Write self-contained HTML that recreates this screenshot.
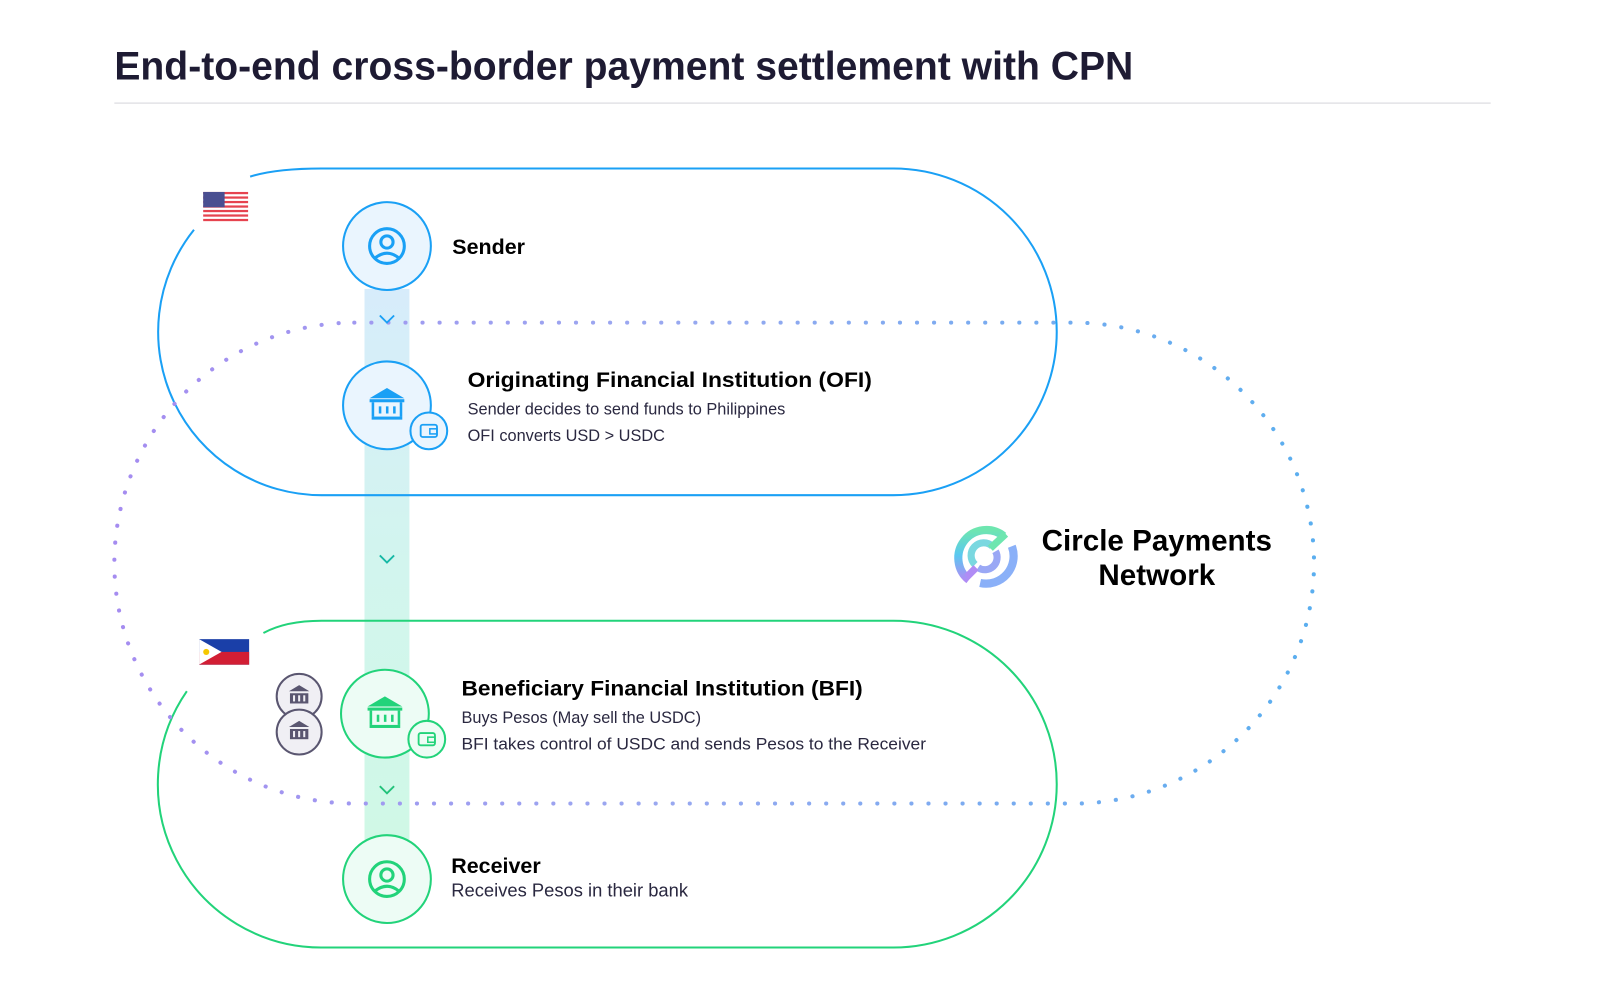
<!DOCTYPE html>
<html><head><meta charset="utf-8"><style>
body{margin:0;background:#fff;width:1600px;height:999px;overflow:hidden;font-family:"Liberation Sans",sans-serif;color:#1e1b33}
</style></head><body>
<svg width="1600" height="999" viewBox="0 0 1600 999" xmlns="http://www.w3.org/2000/svg">
<defs>
<linearGradient id="dg" x1="0" x2="1" y1="0" y2="0"><stop offset="0" stop-color="#a58cf0"/><stop offset="0.45" stop-color="#9aa8f0"/><stop offset="1" stop-color="#5aaeef"/></linearGradient>
<linearGradient id="bar" x1="0" x2="0" y1="0" y2="1"><stop offset="0" stop-color="#d7ecfb"/><stop offset="0.5" stop-color="#d2f5ee"/><stop offset="1" stop-color="#d0f8e6"/></linearGradient>
<linearGradient id="lg" x1="0" x2="0" y1="0" y2="1"><stop offset="0" stop-color="#6ee6b0"/><stop offset="0.5" stop-color="#5ac8f0"/><stop offset="1" stop-color="#b08cf5"/></linearGradient>
</defs>
<g transform="scale(1.021)">
<text x="112" y="78" font-size="39" font-weight="bold" fill="#1e1b33" textLength="998" lengthAdjust="spacingAndGlyphs">End-to-end cross-border payment settlement with CPN</text>
<line x1="112" y1="101" x2="1460" y2="101" stroke="#e2e2e6" stroke-width="1.5"/>
<rect x="357" y="283" width="44" height="540" fill="url(#bar)"/>
<path d="M245 173 Q270 165 315 165 L875 165 A160 160 0 0 1 875 485 L315 485 A160 160 0 0 1 190 225" fill="none" stroke="#1aa0f5" stroke-width="2"/>
<path d="M258 620 Q280 608 315 608 L875 608 A160 160 0 0 1 875 928 L315 928 A160 160 0 0 1 183 677" fill="none" stroke="#22d37a" stroke-width="2"/>
<path d="M347 316 L1052 316 A235 235.5 0 0 1 1052 787 L347 787 A235 235.5 0 0 1 347 316 Z" fill="none" stroke="url(#dg)" stroke-width="4" stroke-linecap="round" stroke-dasharray="0.1 16.6"/>
<path d="M372 309 l7 7 l7 -7" fill="none" stroke="#1aa0f5" stroke-width="1.8"/>
<path d="M372 544 l7 7 l7 -7" fill="none" stroke="#16b8a5" stroke-width="1.8"/>
<path d="M372 770 l7 7 l7 -7" fill="none" stroke="#22c27a" stroke-width="1.8"/>
<g transform="translate(199,188)"><rect width="44" height="29" rx="3" fill="#fff"/>
<g fill="#e6434f"><rect y="0" width="44" height="2.2"/><rect y="4.4" width="44" height="2.2"/><rect y="8.8" width="44" height="2.2"/><rect y="13.2" width="44" height="2.2"/><rect y="17.6" width="44" height="2.2"/><rect y="22" width="44" height="2.2"/><rect y="26.4" width="44" height="2.2"/></g>
<rect width="21" height="15" fill="#4a4f91"/></g>
<g transform="translate(195,626)"><rect width="49" height="25" fill="#1a3fa8"/><rect y="12.5" width="49" height="12.5" fill="#d21e34"/><path d="M0 0 L22 12.5 L0 25Z" fill="#fff"/><circle cx="7" cy="12.5" r="3" fill="#f5c800"/></g>
<circle cx="379" cy="241" r="43" fill="#eaf5fe" stroke="#1aa0f5" stroke-width="2"/>
<circle cx="379" cy="241" r="17" fill="none" stroke="#1aa0f5" stroke-width="3"/>
<circle cx="379" cy="237" r="6" fill="none" stroke="#1aa0f5" stroke-width="3"/>
<path d="M367 253 Q379 243 391 253" fill="none" stroke="#1aa0f5" stroke-width="3"/>
<text x="443" y="249" font-size="21" font-weight="bold">Sender</text>
<circle cx="379" cy="397" r="43" fill="#eaf5fe" stroke="#1aa0f5" stroke-width="2"/>
<g fill="#1aa0f5"><path d="M362 390 L379 380 L396 390Z"/><rect x="362" y="391" width="34" height="3"/><rect x="364" y="408" width="30" height="3"/><rect x="364" y="394" width="2.5" height="14"/><rect x="391.5" y="394" width="2.5" height="14"/><rect x="371" y="398" width="2.5" height="7"/><rect x="378" y="398" width="2.5" height="7"/><rect x="385" y="398" width="2.5" height="7"/></g>
<circle cx="420" cy="422" r="18" fill="#eaf5fe" stroke="#1aa0f5" stroke-width="2"/>
<rect x="412" y="416" width="16" height="12" rx="2" fill="none" stroke="#1aa0f5" stroke-width="1.8"/><rect x="421" y="420" width="7" height="5" fill="none" stroke="#1aa0f5" stroke-width="1.5"/>
<text x="458" y="379" font-size="21" font-weight="bold" textLength="396" lengthAdjust="spacingAndGlyphs">Originating Financial Institution (OFI)</text>
<text x="458" y="406" font-size="16" fill="#2a2840">Sender decides to send funds to Philippines</text>
<text x="458" y="432" font-size="16" fill="#2a2840">OFI converts USD &gt; USDC</text>
<g stroke="#5a5670" stroke-width="2" fill="#f0eff4"><circle cx="293" cy="682" r="22"/><circle cx="293" cy="717" r="22"/></g>
<g fill="#5a5670"><path d="M283 677 L293 671 L303 677Z"/><rect x="284" y="679" width="18" height="10"/><path d="M283 712 L293 706 L303 712Z"/><rect x="284" y="714" width="18" height="10"/></g>
<g fill="#f0eff4"><rect x="287" y="681" width="2" height="6"/><rect x="292" y="681" width="2" height="6"/><rect x="297" y="681" width="2" height="6"/><rect x="287" y="716" width="2" height="6"/><rect x="292" y="716" width="2" height="6"/><rect x="297" y="716" width="2" height="6"/></g>
<circle cx="377" cy="699" r="43" fill="#edfcf5" stroke="#22d37a" stroke-width="2"/>
<g fill="#22d37a"><path d="M360 692 L377 682 L394 692Z"/><rect x="360" y="693" width="34" height="3"/><rect x="362" y="710" width="30" height="3"/><rect x="362" y="696" width="2.5" height="14"/><rect x="389.5" y="696" width="2.5" height="14"/><rect x="369" y="700" width="2.5" height="7"/><rect x="376" y="700" width="2.5" height="7"/><rect x="383" y="700" width="2.5" height="7"/></g>
<circle cx="418" cy="724" r="18" fill="#edfcf5" stroke="#22d37a" stroke-width="2"/>
<rect x="410" y="718" width="16" height="12" rx="2" fill="none" stroke="#22d37a" stroke-width="1.8"/><rect x="419" y="722" width="7" height="5" fill="none" stroke="#22d37a" stroke-width="1.5"/>
<text x="452" y="681" font-size="21" font-weight="bold" textLength="393" lengthAdjust="spacingAndGlyphs">Beneficiary Financial Institution (BFI)</text>
<text x="452" y="708" font-size="16" fill="#2a2840">Buys Pesos (May sell the USDC)</text>
<text x="452" y="734" font-size="16" fill="#2a2840" textLength="455" lengthAdjust="spacingAndGlyphs">BFI takes control of USDC and sends Pesos to the Receiver</text>
<circle cx="379" cy="861" r="43" fill="#edfcf5" stroke="#22d37a" stroke-width="2"/>
<circle cx="379" cy="861" r="17" fill="none" stroke="#22d37a" stroke-width="3"/>
<circle cx="379" cy="857" r="6" fill="none" stroke="#22d37a" stroke-width="3"/>
<path d="M367 873 Q379 863 391 873" fill="none" stroke="#22d37a" stroke-width="3"/>
<text x="442" y="855" font-size="21" font-weight="bold">Receiver</text>
<text x="442" y="878" font-size="18" fill="#2a2840">Receives Pesos in their bank</text>
<path d="M983 525 A27 27 0 0 0 949 568" fill="none" stroke="url(#lg)" stroke-width="8"/>
<path d="M991 535 A27 27 0 0 1 960 571" fill="none" stroke="#8ab0f8" stroke-width="8"/>
<path d="M972 535 A12 12 0 0 0 955 553" fill="none" stroke="#7ad8e0" stroke-width="7"/>
<path d="M958 556 A12 12 0 0 0 975 540" fill="none" stroke="#9aa8f5" stroke-width="7"/>
<path d="M985 523 L970 537" stroke="#6ee6b0" stroke-width="7"/>
<path d="M956 556 L947 565" stroke="#b08cf5" stroke-width="7"/>
<text x="1133" y="539" font-size="29" font-weight="bold" text-anchor="middle">Circle Payments</text>
<text x="1133" y="573" font-size="29" font-weight="bold" text-anchor="middle">Network</text>
</g>
</svg>
</body></html>
